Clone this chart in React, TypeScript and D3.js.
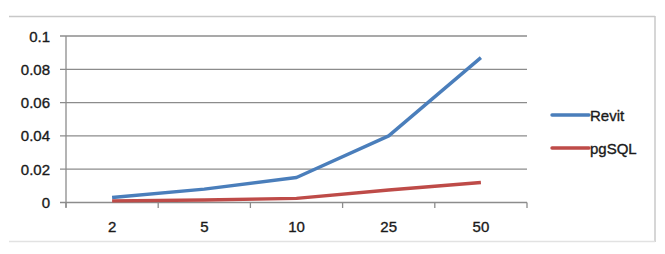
import React from "react";
import * as d3 from "d3";

const categories = ["2", "5", "10", "25", "50"];
const revit = [0.003, 0.008, 0.015, 0.04, 0.087];
const pgsql = [0.001, 0.0015, 0.0025, 0.0075, 0.012];
const yTicks = [0, 0.02, 0.04, 0.06, 0.08, 0.1];
const yTickLabels = ["0", "0.02", "0.04", "0.06", "0.08", "0.1"];
const seriesNames = ["Revit", "pgSQL"];
const seriesColors = ["#4a7ebb", "#be4b48"];

export default function App() {
  const W = 665, H = 254;
  const left = 66, right = 527, top = 36, bottom = 202.5;
  const x = d3.scaleBand<string>().domain(categories).range([left, right]);
  const y = d3.scaleLinear().domain([0, 0.1]).range([bottom, top]);
  const line = d3
    .line<number>()
    .x((_, i) => (x(categories[i]) as number) + x.bandwidth() / 2)
    .y((d) => y(d));
  const series = [revit, pgsql];
  const font = "'Liberation Sans', Arial, sans-serif";
  const tickXs = [...categories.map((c) => x(c) as number), right];
  const textProps = { fontSize: 15, fill: "#1a1a1a", stroke: "#1a1a1a", strokeWidth: 0.35 };
  return (
    <svg
      width={W}
      height={H}
      style={{ position: "absolute", left: 0, top: 0, background: "#fff" }}
      fontFamily={font}
    >
      <rect x={0} y={0} width={W} height={H} fill="#fff" />
      {/* outer frame */}
      <line x1={9} x2={655} y1={16.5} y2={16.5} stroke="#c8c8c8" strokeWidth={1.5} />
      <line x1={655} x2={655} y1={16} y2={242} stroke="#c8c8c8" strokeWidth={1.5} />
      <line x1={9} x2={655} y1={241.5} y2={241.5} stroke="#e2e2e2" strokeWidth={1.5} />
      {/* gridlines */}
      {yTicks.map((t, i) => (
        <g key={i}>
          <line x1={left - 6} x2={right} y1={y(t)} y2={y(t)} stroke="#8c8c8c" strokeWidth={1.3} />
          <text x={50} y={y(t)} textAnchor="end" dominantBaseline="central" {...textProps}>
            {yTickLabels[i]}
          </text>
        </g>
      ))}
      {/* y axis */}
      <line x1={left} x2={left} y1={top} y2={bottom + 5} stroke="#8c8c8c" strokeWidth={1.3} />
      {/* x ticks */}
      {tickXs.map((tx, i) => (
        <line key={i} x1={tx} x2={tx} y1={bottom} y2={bottom + 5.5} stroke="#8c8c8c" strokeWidth={1.3} />
      ))}
      {categories.map((c) => (
        <text
          key={c}
          x={(x(c) as number) + x.bandwidth() / 2}
          y={226}
          textAnchor="middle"
          dominantBaseline="central"
          {...textProps}
        >
          {c}
        </text>
      ))}
      {series.map((s, i) => (
        <path
          key={i}
          d={line(s) as string}
          fill="none"
          stroke={seriesColors[i]}
          strokeWidth={3.4}
          strokeLinejoin="round"
        />
      ))}
      {/* legend */}
      {seriesNames.map((n, i) => (
        <g key={n}>
          <line
            x1={552}
            x2={589}
            y1={115 + i * 33}
            y2={115 + i * 33}
            stroke={seriesColors[i]}
            strokeWidth={3.4}
            strokeLinecap="round"
          />
          <text x={590} y={115 + i * 33} dominantBaseline="central" {...textProps}>
            {n}
          </text>
        </g>
      ))}
    </svg>
  );
}
